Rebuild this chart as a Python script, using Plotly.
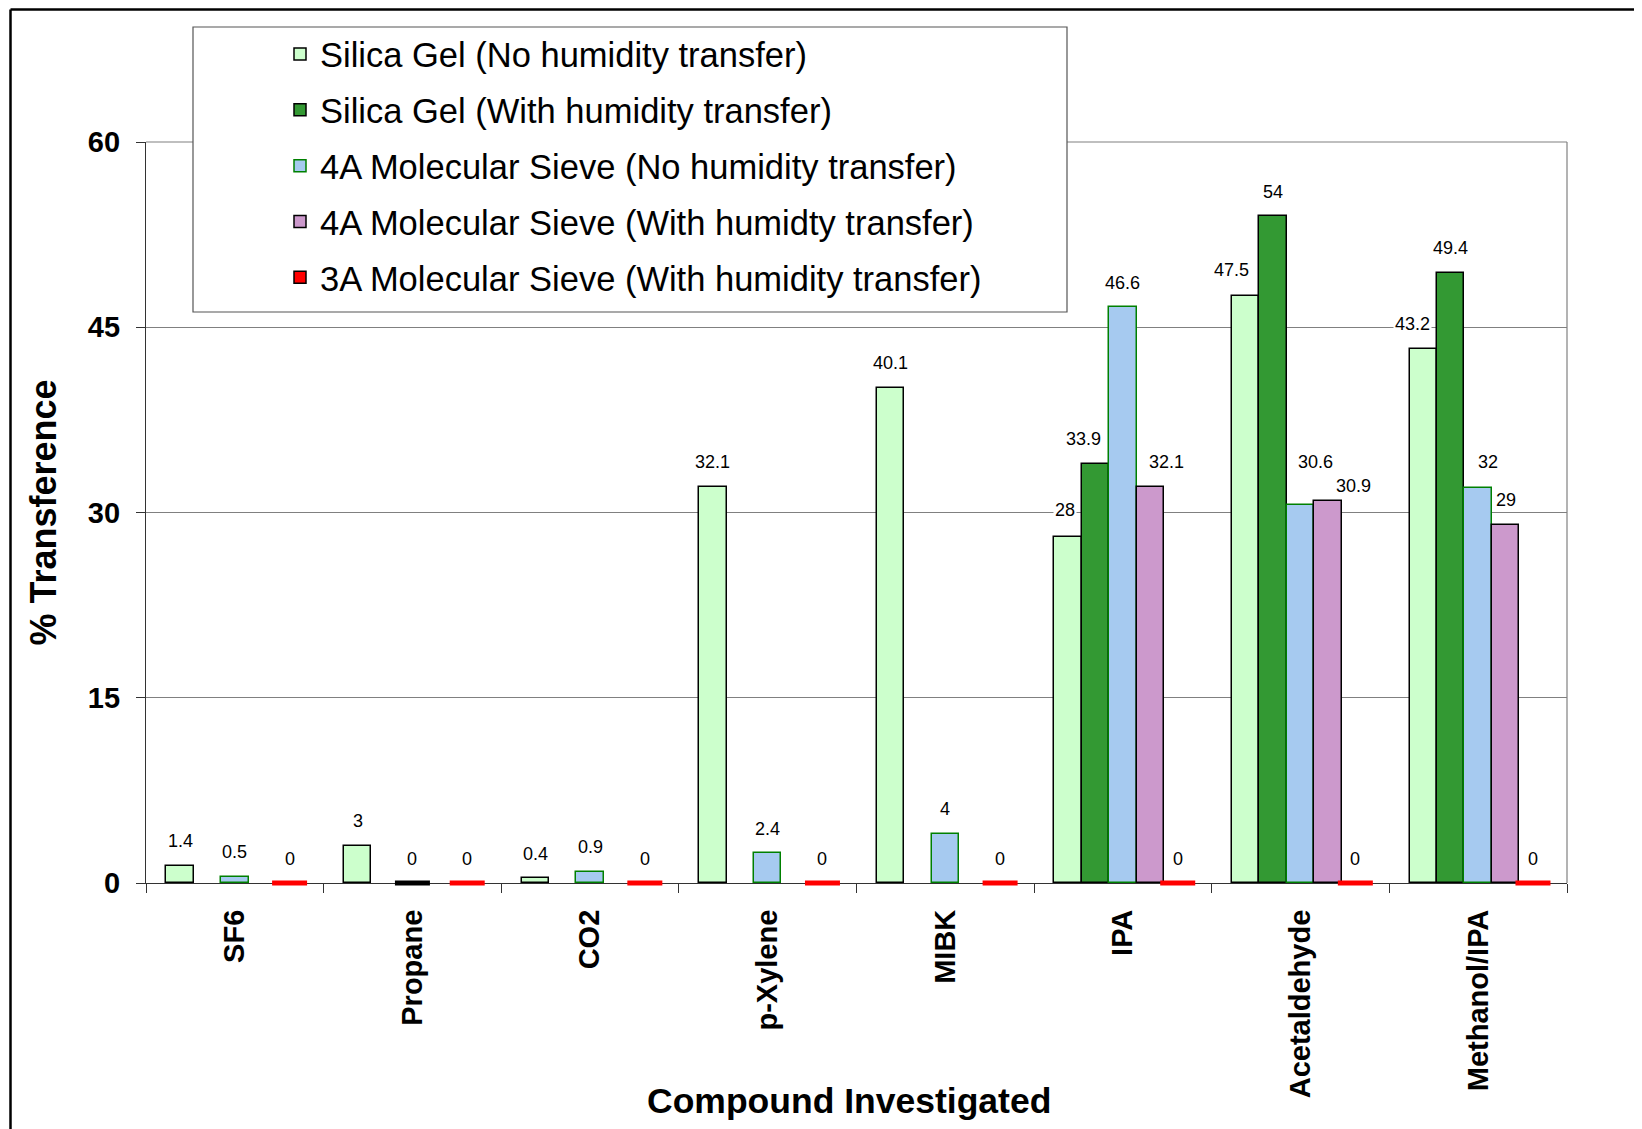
import plotly.graph_objects as go

# ---------------- data ----------------
categories = ["SF6", "Propane", "CO2", "p-Xylene", "MIBK", "IPA", "Acetaldehyde", "Methanol/IPA"]
series_names = [
    "Silica Gel (No humidity transfer)",
    "Silica Gel (With humidity transfer)",
    "4A Molecular Sieve (No humidity transfer)",
    "4A Molecular Sieve (With humidty transfer)",
    "3A Molecular Sieve (With humidity transfer)",
]
silica_no_hum = [1.4, 3, 0.4, 32.1, 40.1, 28, 47.5, 43.2]
silica_with_hum = [None, None, None, None, None, 33.9, 54, 49.4]
sieve4a_no_hum = [0.5, 0, 0.9, 2.4, 4, 46.6, 30.6, 32]
sieve4a_with_hum = [None, None, None, None, None, 32.1, 30.9, 29]
sieve3a_with_hum = [0, 0, 0, 0, 0, 0, 0, 0]
y_ticks = [0, 15, 30, 45, 60]
x_title = "Compound Investigated"
y_title = "% Transference"

series_values = [silica_no_hum, silica_with_hum, sieve4a_no_hum, sieve4a_with_hum, sieve3a_with_hum]

# ---------------- styles ----------------
fills = ["#CCFFCC", "#339933", "#A6CAF0", "#CC99CC", "#FF0000"]
outlines = ["#000000", "#000000", "#008000", "#000000", "#000000"]
zero_colors = ["#000000", "#000000", "#000000", "#000000", "#FF0000"]
FONT = "Liberation Sans, Arial, sans-serif"

# label nudges (px) for labels that were moved by hand in the original
label_nudge = {
    (0, 5): (-3, 3), (1, 5): (-12, 1), (3, 5): (16, 0),
    (0, 6): (-14, 2), (2, 6): (15, 19), (3, 6): (26, -9),
    (0, 7): (-11, 1), (2, 7): (10, 1),
}

# the page body adds an 8px margin, so the figure is sized/placed to compensate
OFF = 8
W, H = 1642 - OFF, 1129 - OFF
ML, MT = 146 - OFF, 142 - OFF
PLOT_R, PLOT_B = 1567 - OFF, 883 - OFF
MR, MB = W - PLOT_R, H - PLOT_B
PW, PH = PLOT_R - ML, PLOT_B - MT


def pxx(xp):  # page x (px) -> paper fraction
    return (xp - OFF - ML) / PW


def pxy(yp):  # page y (px) -> paper fraction
    return (PLOT_B - (yp - OFF)) / PH


n_series = len(series_values)
slot = 0.1542  # width of one bar, in category units
offsets = [(j - (n_series - 1) / 2) * slot for j in range(n_series)]

fig = go.Figure()

for j, (name, vals) in enumerate(zip(series_names, series_values)):
    xs = [i + offsets[j] for i in range(len(categories))]
    fig.add_trace(go.Bar(
        x=xs, y=vals, width=slot, name=name,
        marker=dict(color=fills[j], line=dict(color=outlines[j], width=1.5)),
        legendgroup=f"g{j}", hoverinfo="y",
    ))

# zero-valued points drawn as a thick flat line on the baseline
zx, zc = [], []
for j, vals in enumerate(series_values):
    for i, v in enumerate(vals):
        if v == 0:
            zx.append(i + offsets[j])
            zc.append(zero_colors[j])
fig.add_trace(go.Scatter(
    x=zx, y=[0] * len(zx), mode="markers", showlegend=False, cliponaxis=False,
    marker=dict(symbol="line-ew", size=25, color=zc, line=dict(color=zc, width=5)),
    hoverinfo="skip",
))

# data labels
annotations = []
for j, vals in enumerate(series_values):
    for i, v in enumerate(vals):
        if v is None:
            continue
        dx, dy = label_nudge.get((j, i), (0, 0))
        annotations.append(dict(
            x=i + offsets[j], y=v, xref="x", yref="y", text=f"{v:g}",
            showarrow=False, yanchor="middle", xanchor="center",
            yshift=24.5 + dy, xshift=dx, bgcolor="white", borderpad=1,
            font=dict(family=FONT, size=18, color="black"),
        ))

# x axis title (placed to sit where the original has it, just under the labels)
annotations.append(dict(
    x=pxx(849), y=pxy(1101), xref="paper", yref="paper", text=x_title,
    showarrow=False, xanchor="center", yanchor="middle",
    font=dict(family=FONT, size=35.5, color="black", weight="bold"),
))

shapes = [
    # plot area top and right border
    dict(type="line", xref="paper", yref="paper", x0=0, x1=1, y0=1, y1=1,
         line=dict(color="#808080", width=1.2), layer="above"),
    dict(type="line", xref="paper", yref="paper", x0=1, x1=1, y0=0, y1=1,
         line=dict(color="#808080", width=1.2), layer="above"),
    # legend box
    dict(type="rect", xref="paper", yref="paper",
         x0=pxx(193), x1=pxx(1067), y0=pxy(312), y1=pxy(27),
         fillcolor="white", line=dict(color="#555555", width=1.2), layer="above"),
    # outer chart frame (extends past the page on right and bottom)
    dict(type="line", xref="paper", yref="paper", x0=pxx(10.5), x1=pxx(1700),
         y0=pxy(9.5), y1=pxy(9.5), line=dict(color="black", width=2.5), layer="above"),
    dict(type="line", xref="paper", yref="paper", x0=pxx(10.5), x1=pxx(10.5),
         y0=pxy(9.5), y1=pxy(1200), line=dict(color="black", width=2.5), layer="above"),
]

fig.update_layout(
    width=W, height=H,
    margin=dict(l=ML, r=MR, t=MT, b=MB, autoexpand=False),
    paper_bgcolor="white", plot_bgcolor="white",
    barmode="overlay", bargap=0,
    showlegend=True,
    legend=dict(
        x=pxx(280), y=pxy(25), xanchor="left", yanchor="top",
        bgcolor="rgba(0,0,0,0)", borderwidth=0,
        font=dict(family=FONT, size=34.5, color="black"),
        traceorder="grouped", tracegroupgap=8,
    ),
    annotations=annotations,
    shapes=shapes,
    xaxis=dict(
        range=[-0.5, len(categories) - 0.5],
        tickmode="array", tickvals=list(range(len(categories))), ticktext=categories,
        tickangle=-90, ticks="", ticklabelstandoff=14,
        tickfont=dict(family=FONT, size=29, color="black", weight="bold"),
        showgrid=False, zeroline=False,
        showline=True, linecolor="#333333", linewidth=1.2,
        minor=dict(tickmode="array", tickvals=[i - 0.5 for i in range(len(categories) + 1)],
                   ticks="outside", ticklen=9, tickcolor="#333333", tickwidth=1.2, showgrid=False),
        layer="below traces",
    ),
    yaxis=dict(
        range=[0, 60], tickmode="array", tickvals=y_ticks,
        ticks="outside", ticklen=9, tickcolor="#333333", tickwidth=1.2,
        ticklabelstandoff=10,
        tickfont=dict(family=FONT, size=29, color="black", weight="bold"),
        showgrid=True, gridcolor="#808080", gridwidth=1,
        zeroline=False, showline=True, linecolor="#333333", linewidth=1.2,
        layer="below traces",
        title=dict(text=y_title, standoff=20,
                   font=dict(family=FONT, size=36, color="black", weight="bold")),
    ),
)

fig.write_html("out.html")
